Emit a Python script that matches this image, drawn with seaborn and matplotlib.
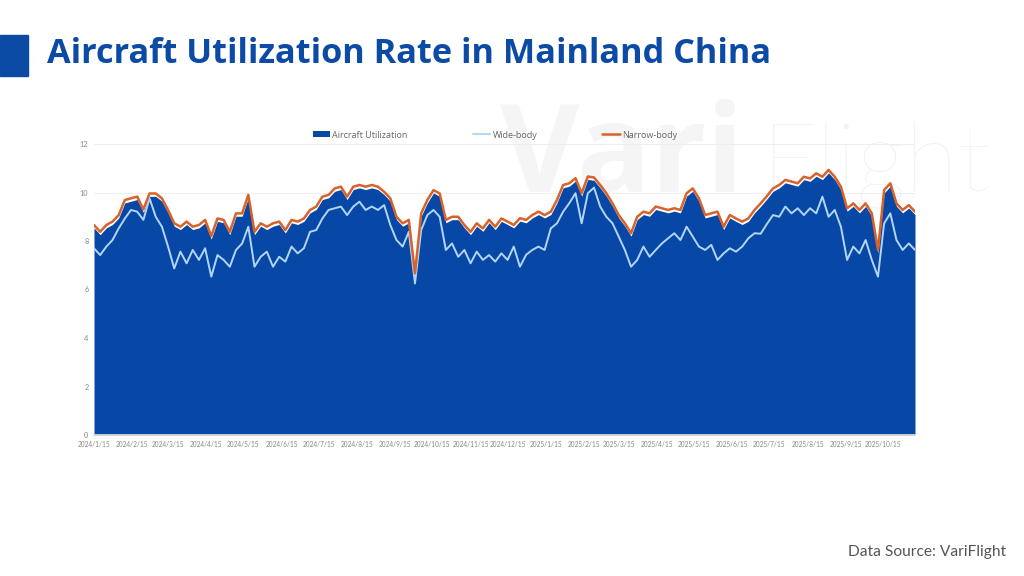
import matplotlib
matplotlib.use("Agg")
import matplotlib.pyplot as plt
from matplotlib.patches import Rectangle, Patch
from matplotlib.lines import Line2D
import seaborn as sns
import pandas as pd

# ---------------- data (5-day samples from 2024/1/15) ----------------
start_date = "2024-01-15"
step = "5D"

narrow_body = [
    8.66, 8.38, 8.66, 8.80, 9.07, 9.69, 9.76, 9.83, 9.30, 9.96, 9.96, 9.76, 9.28, 8.73, 8.59, 8.80, 8.59,
    8.66, 8.87, 8.20, 8.93, 8.87, 8.38, 9.14, 9.14, 9.90, 8.38, 8.73, 8.59, 8.73, 8.80, 8.45, 8.87, 8.80,
    8.93, 9.28, 9.42, 9.83, 9.90, 10.17, 10.24, 9.83, 10.24, 10.31, 10.24, 10.31, 10.24, 10.03, 9.76, 9.00,
    8.73, 8.87, 6.67, 9.14, 9.69, 10.10, 9.96, 8.87, 9.00, 9.00, 8.66, 8.38, 8.73, 8.52, 8.87, 8.59, 8.93, 8.80,
    8.66, 8.94, 8.87, 9.07, 9.21, 9.07, 9.21, 9.69, 10.31, 10.38, 10.59, 9.97, 10.66, 10.62, 10.31, 9.97,
    9.55, 9.07, 8.73, 8.32, 9.00, 9.21, 9.14, 9.42, 9.35, 9.28, 9.35, 9.28, 9.97, 10.17, 9.76, 9.07, 9.14,
    9.21, 8.59, 9.07, 8.93, 8.80, 8.93, 9.28,
    9.55, 9.85, 10.17, 10.31, 10.52, 10.45, 10.38, 10.65, 10.58, 10.79, 10.65, 10.93, 10.65, 10.24, 9.35,
    9.55, 9.28, 9.55, 9.14, 7.63, 10.10, 10.38, 9.55, 9.28, 9.48, 9.21,
]

wide_body = [
    7.70, 7.42, 7.77, 8.04, 8.52, 8.93, 9.28, 9.21, 8.87, 9.76, 9.00, 8.59, 7.77, 6.87, 7.56, 7.08, 7.63,
    7.22, 7.70, 6.53, 7.42, 7.22, 6.94, 7.63, 7.90, 8.59, 6.94, 7.35, 7.56, 6.94, 7.35, 7.15, 7.77, 7.49,
    7.70, 8.38, 8.45, 8.93, 9.28, 9.35, 9.42, 9.07, 9.42, 9.62, 9.28, 9.42, 9.28, 9.48, 8.66, 8.04,
    7.77, 8.38, 6.25, 8.45, 9.07, 9.28, 9.00, 7.63, 7.90, 7.35, 7.63, 7.08, 7.56, 7.22, 7.42, 7.15, 7.49, 7.22,
    7.77, 6.94, 7.43, 7.63, 7.77, 7.63, 8.52, 8.73, 9.21, 9.56, 9.97, 8.73, 9.97, 10.20, 9.42, 9.00,
    8.73, 8.18, 7.63, 6.94, 7.22, 7.77, 7.35, 7.63, 7.90, 8.11, 8.32, 8.04, 8.59, 8.18, 7.77, 7.63, 7.84,
    7.22, 7.49, 7.70, 7.56, 7.77, 8.11, 8.32,
    8.30, 8.70, 9.07, 9.00, 9.42, 9.14, 9.35, 9.07, 9.35, 9.14, 9.83, 9.00, 9.28, 8.59, 7.22,
    7.77, 7.49, 8.04, 7.22, 6.53, 8.73, 9.14, 8.04, 7.63, 7.90, 7.63,
]

aircraft_utilization = [
    8.54, 8.26, 8.54, 8.68, 8.95, 9.57, 9.64, 9.71, 9.18, 9.84, 9.84, 9.64, 9.16, 8.61, 8.47, 8.68, 8.47,
    8.54, 8.75, 8.08, 8.81, 8.75, 8.26, 9.02, 9.02, 9.78, 8.26, 8.61, 8.47, 8.61, 8.68, 8.33, 8.75, 8.68,
    8.81, 9.16, 9.30, 9.71, 9.78, 10.05, 10.12, 9.71, 10.12, 10.19, 10.12, 10.19, 10.12, 9.91, 9.64, 8.88,
    8.61, 8.75, 6.55, 9.02, 9.57, 9.98, 9.84, 8.75, 8.88, 8.88, 8.54, 8.26, 8.61, 8.40, 8.75, 8.47, 8.81, 8.68,
    8.54, 8.82, 8.75, 8.95, 9.09, 8.95, 9.09, 9.57, 10.19, 10.26, 10.47, 9.85, 10.54, 10.50, 10.19, 9.85,
    9.43, 8.95, 8.61, 8.20, 8.88, 9.09, 9.02, 9.30, 9.23, 9.16, 9.23, 9.16, 9.85, 10.05, 9.64, 8.95, 9.02,
    9.09, 8.47, 8.95, 8.81, 8.68, 8.81, 9.16,
    9.43, 9.73, 10.05, 10.19, 10.40, 10.33, 10.26, 10.53, 10.46, 10.67, 10.53, 10.81, 10.53, 10.12, 9.23,
    9.43, 9.16, 9.43, 9.02, 7.51, 9.98, 10.26, 9.43, 9.16, 9.36, 9.09,
]

y_ticks = [0, 2, 4, 6, 8, 10, 12]
tick_months = pd.date_range("2024-01-01", "2025-10-01", freq="MS") + pd.Timedelta(days=14)
tick_labels = [f"{d.year}/{d.month}/{d.day}" for d in tick_months]

dates = pd.date_range(start_date, periods=len(narrow_body), freq=step)
df = pd.DataFrame({"date": dates, "Aircraft Utilization": aircraft_utilization,
                   "Wide-body": wide_body, "Narrow-body": narrow_body})

# ---------------- style ----------------
sns.set_theme(style="white")
plt.rcParams["font.family"] = ["Open Sans", "DejaVu Sans"]

C_AREA = "#0747A6"
C_WIDE = "#B3D6F7"
C_NARROW = "#D8622A"
C_TITLE = "#0B4AA5"

fig = plt.figure(figsize=(10.24, 5.76), dpi=100)
fig.patch.set_facecolor("white")

# watermark (behind the chart)
fig.text(500 / 1024, 1 - 192 / 576, "Vari", fontsize=88, fontweight="bold", color="#F5F5F5",
         family="Open Sans", va="baseline", ha="left", zorder=-5)
fig.text(762 / 1024, 1 - 192 / 576, "Flight", fontsize=70, fontweight="light", color="#F2F2F2",
         family="Lato", va="baseline", ha="left", zorder=-5)

# title block
fig.patches.append(Rectangle((0, 1 - 76 / 576), 28 / 1024, 41 / 576, transform=fig.transFigure,
                             color=C_TITLE, zorder=2))
fig.text(47 / 1024, 1 - 54 / 576, "Aircraft Utilization Rate in Mainland China", fontsize=24.7,
         fontweight="bold", color=C_TITLE, va="center", ha="left", family="Open Sans")

fig.text(1006 / 1024, 1 - 552 / 576, "Data Source: VariFlight", fontsize=11.2, color="#555555",
         ha="right", va="center", family="Lato")

ax = fig.add_axes([94 / 1024, 1 - 435 / 576, 821 / 1024, 291 / 576])
ax.patch.set_alpha(0)
ax.set_zorder(1)

ax.fill_between(df["date"], 0, df["Aircraft Utilization"], color=C_AREA, linewidth=0, zorder=2)
sns.lineplot(data=df, x="date", y="Wide-body", ax=ax, color=C_WIDE, linewidth=1.4, zorder=3)
sns.lineplot(data=df, x="date", y="Narrow-body", ax=ax, color=C_NARROW, linewidth=1.8, zorder=4)

ax.set_xlim(dates[0], dates[-1])
ax.set_ylim(0, 12)
ax.set_yticks(y_ticks)
ax.set_yticklabels([str(v) for v in y_ticks], fontsize=5.3, color="#888888", family="Lato")
ax.set_xticks(tick_months)
ax.set_xticklabels(tick_labels, fontsize=4.7, color="#888888", family="Lato")
ax.tick_params(axis="both", length=0, pad=4)
ax.set_xlabel("")
ax.set_ylabel("")
ax.grid(axis="y", color="#EEEEEE", linewidth=0.7, zorder=0)
ax.set_axisbelow(True)
for s in ["top", "right", "left"]:
    ax.spines[s].set_visible(False)
ax.spines["bottom"].set_color("#DDDDDD")

handles = [Patch(facecolor=C_AREA, edgecolor="none"),
           Line2D([], [], color=C_WIDE, linewidth=1.4),
           Line2D([], [], color=C_NARROW, linewidth=1.8)]
leg = fig.legend(handles, ["Aircraft Utilization", "Wide-body", "Narrow-body"],
                 loc="center", bbox_to_anchor=(495 / 1024, 1 - 135 / 576), ncol=3, frameon=False,
                 handlelength=1.9, handleheight=0.6, columnspacing=7.2,
                 handletextpad=0.3, prop={"family": "Open Sans", "size": 6.5})
for t in leg.get_texts():
    t.set_color("#666666")

fig.savefig("out.png", dpi=100, facecolor="white")
